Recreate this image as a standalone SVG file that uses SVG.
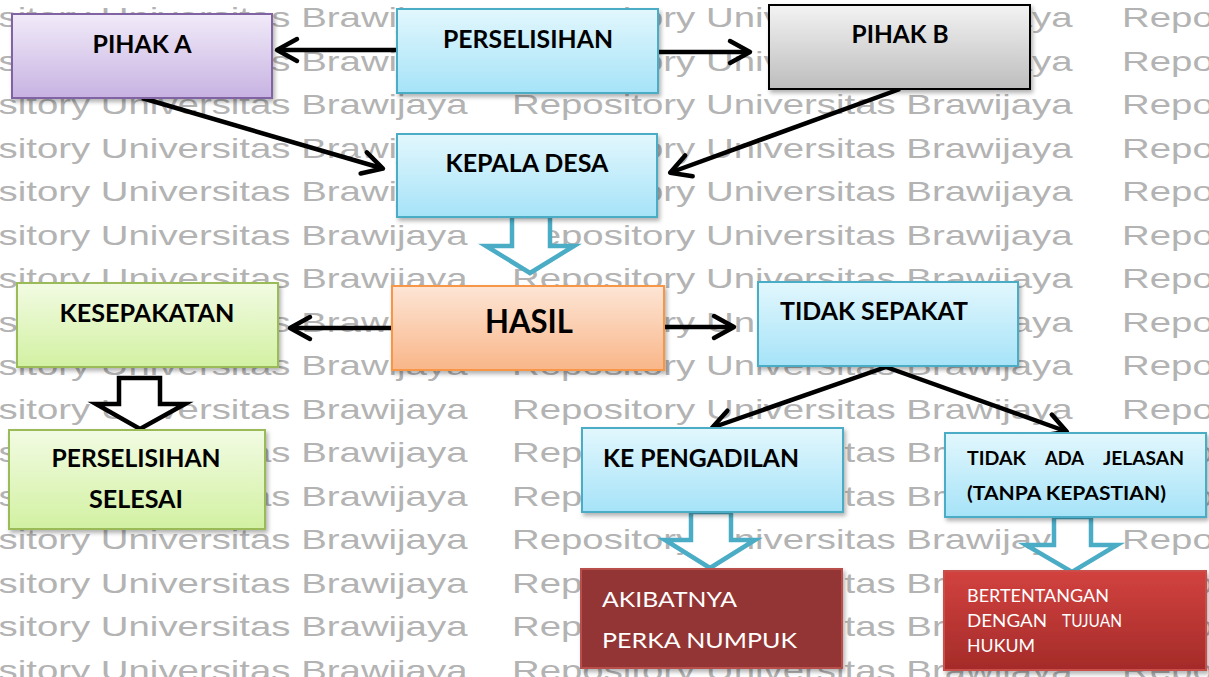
<svg xmlns="http://www.w3.org/2000/svg" width="1209" height="677" viewBox="0 0 1209 677">
<style>
.wm{font-family:"Liberation Sans",Arial,sans-serif;font-size:28px;fill:#b3b3b3}
.lbl{font-family:Lato,"Open Sans",sans-serif;font-weight:700;font-size:25px;fill:#000}
.sm{font-family:Lato,"Open Sans",sans-serif;font-weight:700;font-size:18px;fill:#000}
.wt{font-family:Lato,"Open Sans",sans-serif;font-weight:400;fill:#fff}
.c{text-anchor:middle}
.conn line{stroke:#000;stroke-width:4.5;marker-end:url(#arr)}
.blk{fill:#fff;stroke-width:4.5;stroke-linejoin:miter}
</style>
<defs>
<linearGradient id="gBlue" x1="0" y1="0" x2="0" y2="1"><stop offset="0" stop-color="#e2f7fd"/><stop offset="1" stop-color="#a6e3f8"/></linearGradient>
<linearGradient id="gPur" x1="0" y1="0" x2="0" y2="1"><stop offset="0" stop-color="#f1ebf9"/><stop offset="1" stop-color="#c7b2e2"/></linearGradient>
<linearGradient id="gGrey" x1="0" y1="0" x2="0" y2="1"><stop offset="0" stop-color="#f3f3f3"/><stop offset="1" stop-color="#bdbdbd"/></linearGradient>
<linearGradient id="gOr" x1="0" y1="0" x2="0" y2="1"><stop offset="0" stop-color="#fde5d5"/><stop offset="1" stop-color="#f9b689"/></linearGradient>
<linearGradient id="gGr" x1="0" y1="0" x2="0" y2="1"><stop offset="0" stop-color="#f2fbe3"/><stop offset="1" stop-color="#d2f1a2"/></linearGradient>
<linearGradient id="gRed" x1="0" y1="0" x2="0" y2="1"><stop offset="0" stop-color="#d2423f"/><stop offset="1" stop-color="#a42b29"/></linearGradient>
<filter id="sh" x="-10%" y="-10%" width="125%" height="135%"><feDropShadow dx="2" dy="3" stdDeviation="2" flood-color="#000" flood-opacity="0.3"/></filter>
<marker id="arr" markerUnits="userSpaceOnUse" viewBox="-26 -15 30 30" markerWidth="30" markerHeight="30" refX="-2" refY="0" orient="auto">
<path d="M-20,-11 L0,0 L-20,11" fill="none" stroke="#000" stroke-width="4.5" stroke-linecap="round" stroke-linejoin="round"/>
</marker>
</defs>
<rect width="1209" height="677" fill="#fff"/>
<g id="watermark" transform="scale(1.37,1)" class="wm">
<text y="27.5"><tspan x="-68">Repository Universitas Brawijaya</tspan><tspan x="373.7">Repository Universitas Brawijaya</tspan><tspan x="819">Repository Universitas Brawijaya</tspan></text>
<text y="71"><tspan x="-68">Repository Universitas Brawijaya</tspan><tspan x="373.7">Repository Universitas Brawijaya</tspan><tspan x="819">Repository Universitas Brawijaya</tspan></text>
<text y="114.5"><tspan x="-68">Repository Universitas Brawijaya</tspan><tspan x="373.7">Repository Universitas Brawijaya</tspan><tspan x="819">Repository Universitas Brawijaya</tspan></text>
<text y="158"><tspan x="-68">Repository Universitas Brawijaya</tspan><tspan x="373.7">Repository Universitas Brawijaya</tspan><tspan x="819">Repository Universitas Brawijaya</tspan></text>
<text y="201.5"><tspan x="-68">Repository Universitas Brawijaya</tspan><tspan x="373.7">Repository Universitas Brawijaya</tspan><tspan x="819">Repository Universitas Brawijaya</tspan></text>
<text y="245"><tspan x="-68">Repository Universitas Brawijaya</tspan><tspan x="373.7">Repository Universitas Brawijaya</tspan><tspan x="819">Repository Universitas Brawijaya</tspan></text>
<text y="288.5"><tspan x="-68">Repository Universitas Brawijaya</tspan><tspan x="373.7">Repository Universitas Brawijaya</tspan><tspan x="819">Repository Universitas Brawijaya</tspan></text>
<text y="332"><tspan x="-68">Repository Universitas Brawijaya</tspan><tspan x="373.7">Repository Universitas Brawijaya</tspan><tspan x="819">Repository Universitas Brawijaya</tspan></text>
<text y="375.5"><tspan x="-68">Repository Universitas Brawijaya</tspan><tspan x="373.7">Repository Universitas Brawijaya</tspan><tspan x="819">Repository Universitas Brawijaya</tspan></text>
<text y="419"><tspan x="-68">Repository Universitas Brawijaya</tspan><tspan x="373.7">Repository Universitas Brawijaya</tspan><tspan x="819">Repository Universitas Brawijaya</tspan></text>
<text y="462.5"><tspan x="-68">Repository Universitas Brawijaya</tspan><tspan x="373.7">Repository Universitas Brawijaya</tspan><tspan x="819">Repository Universitas Brawijaya</tspan></text>
<text y="506"><tspan x="-68">Repository Universitas Brawijaya</tspan><tspan x="373.7">Repository Universitas Brawijaya</tspan><tspan x="819">Repository Universitas Brawijaya</tspan></text>
<text y="549.5"><tspan x="-68">Repository Universitas Brawijaya</tspan><tspan x="373.7">Repository Universitas Brawijaya</tspan><tspan x="819">Repository Universitas Brawijaya</tspan></text>
<text y="593"><tspan x="-68">Repository Universitas Brawijaya</tspan><tspan x="373.7">Repository Universitas Brawijaya</tspan><tspan x="819">Repository Universitas Brawijaya</tspan></text>
<text y="636.5"><tspan x="-68">Repository Universitas Brawijaya</tspan><tspan x="373.7">Repository Universitas Brawijaya</tspan><tspan x="819">Repository Universitas Brawijaya</tspan></text>
<text y="680"><tspan x="-68">Repository Universitas Brawijaya</tspan><tspan x="373.7">Repository Universitas Brawijaya</tspan><tspan x="819">Repository Universitas Brawijaya</tspan></text>
</g>

<g id="connectors" class="conn">
<line x1="397" y1="50" x2="279" y2="50"/>
<line x1="658" y1="52" x2="748" y2="52"/>
<line x1="142" y1="98" x2="381" y2="168"/>
<line x1="900" y1="89" x2="672" y2="172"/>
<line x1="392" y1="328" x2="292" y2="328"/>
<line x1="664" y1="327" x2="732" y2="327"/>
<line x1="886" y1="367" x2="714" y2="427"/>
<line x1="886" y1="367" x2="1065" y2="431"/>
</g>

<g id="block-arrows">
<polygon class="blk" stroke="#4bacc6" points="512,216 512,246 486,246 530,273 574,246 550,246 550,216"/>
<polygon class="blk" stroke="#000" points="119,378 119,404 96,404 140,429 185,404 160,404 160,378"/>
<polygon class="blk" stroke="#4bacc6" points="691,512 691,540 665,540 710,568 755,540 731,540 731,512"/>
<polygon class="blk" stroke="#4bacc6" points="1054,517 1054,545 1026,545 1072,572 1117,545 1091,545 1091,517"/>
</g>

<g id="pihak-a">
<rect x="12" y="14" width="260" height="84" fill="url(#gPur)" stroke="#8064a2" stroke-width="2" filter="url(#sh)"/>
<text class="lbl c" x="142" y="53" textLength="99" lengthAdjust="spacingAndGlyphs">PIHAK A</text>
</g>
<g id="perselisihan">
<rect x="397" y="9" width="261" height="84" fill="url(#gBlue)" stroke="#4bacc6" stroke-width="2" filter="url(#sh)"/>
<text class="lbl c" x="528" y="48" textLength="170" lengthAdjust="spacingAndGlyphs">PERSELISIHAN</text>
</g>
<g id="pihak-b">
<rect x="769" y="5" width="261" height="84" fill="url(#gGrey)" stroke="#000" stroke-width="2" filter="url(#sh)"/>
<text class="lbl c" x="900" y="43" textLength="97" lengthAdjust="spacingAndGlyphs">PIHAK B</text>
</g>
<g id="kepala-desa">
<rect x="397" y="134" width="260" height="83" fill="url(#gBlue)" stroke="#4bacc6" stroke-width="2" filter="url(#sh)"/>
<text class="lbl c" x="527" y="172" textLength="163" lengthAdjust="spacingAndGlyphs">KEPALA DESA</text>
</g>
<g id="hasil">
<rect x="392" y="286" width="272" height="84" fill="url(#gOr)" stroke="#f79646" stroke-width="2" filter="url(#sh)"/>
<text class="lbl c" x="529" y="333" style="font-size:32px" textLength="88" lengthAdjust="spacingAndGlyphs">HASIL</text>
</g>
<g id="kesepakatan">
<rect x="17" y="283" width="261" height="84" fill="url(#gGr)" stroke="#9bbb59" stroke-width="2" filter="url(#sh)"/>
<text class="lbl c" x="147" y="322" textLength="175" lengthAdjust="spacingAndGlyphs">KESEPAKATAN</text>
</g>
<g id="perselisihan-selesai">
<rect x="9" y="430" width="256" height="99" fill="url(#gGr)" stroke="#9bbb59" stroke-width="2" filter="url(#sh)"/>
<text class="lbl c" x="136" y="467" textLength="169" lengthAdjust="spacingAndGlyphs">PERSELISIHAN</text>
<text class="lbl c" x="136" y="508" textLength="94" lengthAdjust="spacingAndGlyphs">SELESAI</text>
</g>
<g id="tidak-sepakat">
<rect x="758" y="282" width="260" height="84" fill="url(#gBlue)" stroke="#4bacc6" stroke-width="2" filter="url(#sh)"/>
<text class="lbl" x="780" y="320" textLength="188" lengthAdjust="spacingAndGlyphs">TIDAK SEPAKAT</text>
</g>
<g id="ke-pengadilan">
<rect x="582" y="428" width="261" height="84" fill="url(#gBlue)" stroke="#4bacc6" stroke-width="2" filter="url(#sh)"/>
<text class="lbl" x="603" y="467" textLength="196" lengthAdjust="spacingAndGlyphs">KE PENGADILAN</text>
</g>
<g id="tidak-ada-jelasan">
<rect x="945" y="433" width="261" height="84" fill="url(#gBlue)" stroke="#4bacc6" stroke-width="2" filter="url(#sh)"/>
<text class="sm" y="465"><tspan x="967" textLength="59" lengthAdjust="spacingAndGlyphs">TIDAK</tspan><tspan x="1045" textLength="39" lengthAdjust="spacingAndGlyphs">ADA</tspan><tspan x="1103" textLength="81" lengthAdjust="spacingAndGlyphs">JELASAN</tspan></text>
<text class="sm" x="967" y="500" textLength="199" lengthAdjust="spacingAndGlyphs">(TANPA KEPASTIAN)</text>
</g>
<g id="akibatnya">
<rect x="581" y="569" width="261" height="99" fill="#943634" stroke="#b9504c" stroke-width="2" filter="url(#sh)"/>
<text class="wt" x="602" y="607" style="font-size:22px" textLength="135" lengthAdjust="spacingAndGlyphs">AKIBATNYA</text>
<text class="wt" x="602" y="648" style="font-size:22px" textLength="195" lengthAdjust="spacingAndGlyphs">PERKA NUMPUK</text>
</g>
<g id="bertentangan">
<rect x="944" y="571" width="262" height="99" fill="url(#gRed)" stroke="#c9504c" stroke-width="2" filter="url(#sh)"/>
<text class="wt" x="967" y="602" style="font-size:17px" textLength="142" lengthAdjust="spacingAndGlyphs">BERTENTANGAN</text>
<text class="wt" y="627" style="font-size:17px"><tspan x="967" textLength="80" lengthAdjust="spacingAndGlyphs">DENGAN</tspan><tspan x="1062" textLength="60" lengthAdjust="spacingAndGlyphs">TUJUAN</tspan></text>
<text class="wt" x="967" y="652" style="font-size:17px" textLength="68" lengthAdjust="spacingAndGlyphs">HUKUM</text>
</g>
</svg>
